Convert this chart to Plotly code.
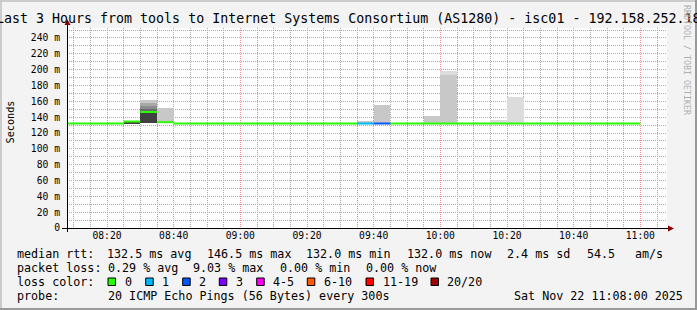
import plotly.graph_objects as go
from datetime import datetime, timedelta

DAY = "2025-11-22"

# ---- data: 5-minute bins (start times), median rtt (ms) and lost pings per bin ----
bin_start = ["08:05", "08:10", "08:15", "08:20", "08:25", "08:30", "08:35", "08:40",
             "08:45", "08:50", "08:55", "09:00", "09:05", "09:10", "09:15", "09:20",
             "09:25", "09:30", "09:35", "09:40", "09:45", "09:50", "09:55", "10:00",
             "10:05", "10:10", "10:15", "10:20", "10:25", "10:30", "10:35", "10:40",
             "10:45", "10:50", "10:55"]
median_ms = [132.0, 132.0, 132.0, 132.0, 134.5, 146.5, 133.7, 132.0,
             132.0, 132.0, 132.0, 132.0, 132.0, 132.0, 132.0, 132.0,
             132.0, 132.0, 132.0, 132.0, 132.0, 132.0, 132.0, 132.0,
             132.0, 132.0, 132.0, 132.0, 132.0, 132.0, 132.0, 132.0,
             132.0, 132.0, 132.0]
loss_count = [0, 0, 0, 0, 0, 0, 0, 0,
              0, 0, 0, 0, 0, 0, 0, 0,
              0, 0, 1, 2, 0, 0, 0, 0,
              0, 0, 0, 0, 0, 0, 0, 0,
              0, 0, 0]

# smoke bands: bin, low (ms), high (ms), ping rank of the band (1 = outermost)
smoke_bin = ["08:25", "08:30", "08:30", "08:30", "08:30", "08:30", "08:30", "08:35",
             "09:35", "09:40", "09:55", "10:00", "10:00", "10:15", "10:20"]
smoke_low = [132.3, 132.6, 146.5, 148.2, 150.7, 154.5, 157.9, 133.7,
             132.0, 132.0, 132.0, 132.0, 193.6, 132.0, 132.0]
smoke_high = [134.5, 146.5, 148.2, 150.7, 154.5, 157.9, 161.2, 152.0,
              135.5, 155.7, 141.0, 193.6, 198.7, 136.8, 166.0]
smoke_rank = [9, 9, 6, 5, 4, 3, 2, 2,
              2, 2, 2, 2, 1, 1, 1]

y_ticks = [0, 20, 40, 60, 80, 100, 120, 140, 160, 180, 200, 220, 240]
y_tick_labels = ["0", "20 m", "40 m", "60 m", "80 m", "100 m", "120 m", "140 m",
                 "160 m", "180 m", "200 m", "220 m", "240 m"]

loss_legend_labels = ["0", "1", "2", "3", "4-5", "6-10", "11-19", "20/20"]

title_text = "Last 3 Hours from tools to Internet Systems Consortium (AS1280) - isc01 - 192.158.252.18"
median_line = ["median rtt:", "132.5 ms avg", "146.5 ms max", "132.0 ms min",
               "132.0 ms now", "2.4 ms sd", "54.5", "am/s"]
loss_line = ["packet loss:", "0.29 % avg", "9.03 % max", "0.00 % min", "0.00 % now"]
probe_line = ["probe:", "20 ICMP Echo Pings (56 Bytes) every 300s", "Sat Nov 22 11:08:00 2025"]

# ---- styles ----
LOSS_COLORS = ["#26ff00", "#00b8ff", "#0059ff", "#7e00ff", "#ff00f0", "#ff5a00", "#ff0000", "#a10000"]
RANK_COLORS = {1: "#dcdcdc", 2: "#c8c8c8", 3: "#a8a8a8", 4: "#8c8c8c", 5: "#6c6c6c",
               6: "#555555", 9: "#404040"}
MONO = "DejaVu Sans Mono"

W, H = 697, 310
L, T, PW, PH = 67, 28, 600, 200


def px(x):
    return (x - L) / PW


def py(y):
    return (T + PH - y) / PH


def loss_idx(n):
    if n <= 3:
        return n
    if n <= 5:
        return 4
    if n <= 10:
        return 5
    if n <= 19:
        return 6
    return 7


def t(hm):
    return datetime.strptime(DAY + " " + hm, "%Y-%m-%d %H:%M")


STEP = timedelta(minutes=5)

fig = go.Figure()

# smoke
fig.add_trace(go.Bar(
    x=[t(b) + STEP / 2 for b in smoke_bin],
    y=[h - l for l, h in zip(smoke_low, smoke_high)],
    base=smoke_low,
    width=300000,
    marker=dict(color=[RANK_COLORS[r] for r in smoke_rank], line=dict(width=0)),
    hoverinfo="skip", showlegend=False,
))

# median line coloured by loss
groups = {}
for s, m, n in zip(bin_start, median_ms, loss_count):
    k = loss_idx(n)
    xs, ys = groups.setdefault(k, ([], []))
    xs += [t(s), t(s) + STEP, None]
    ys += [m, m, None]
for k in sorted(groups):
    xs, ys = groups[k]
    fig.add_trace(go.Scatter(x=xs, y=ys, mode="lines",
                             line=dict(color=LOSS_COLORS[k], width=2),
                             hoverinfo="skip", showlegend=False))

shapes = []
# frame
shapes += [
    dict(type="rect", xref="paper", yref="paper", x0=px(0), x1=px(W), y0=py(0), y1=py(2),
         fillcolor="#cbcbcb", line=dict(width=0), layer="above"),
    dict(type="rect", xref="paper", yref="paper", x0=px(0), x1=px(2), y0=py(0), y1=py(H),
         fillcolor="#cbcbcb", line=dict(width=0), layer="above"),
    dict(type="rect", xref="paper", yref="paper", x0=px(W - 2), x1=px(W), y0=py(0), y1=py(H),
         fillcolor="#999999", line=dict(width=0), layer="above"),
    dict(type="rect", xref="paper", yref="paper", x0=px(0), x1=px(W), y0=py(H - 2), y1=py(H),
         fillcolor="#999999", line=dict(width=0), layer="above"),
]
# axes lines and arrows
shapes += [
    dict(type="line", xref="paper", yref="paper", x0=px(67.5), x1=px(67.5), y0=py(232), y1=py(24),
         line=dict(color="black", width=1), layer="above"),
    dict(type="line", xref="paper", yref="paper", x0=px(62), x1=px(670), y0=py(228.5), y1=py(228.5),
         line=dict(color="black", width=1), layer="above"),
    dict(type="path", xref="paper", yref="paper",
         path=f"M {px(64.5)} {py(25)} L {px(70.5)} {py(25)} L {px(67.5)} {py(19.5)} Z",
         fillcolor="#8b0000", line=dict(width=0), layer="above"),
    dict(type="path", xref="paper", yref="paper",
         path=f"M {px(668)} {py(225.5)} L {px(668)} {py(231.5)} L {px(674)} {py(228.5)} Z",
         fillcolor="#8b0000", line=dict(width=0), layer="above"),
]

annotations = []


def text(x, y, s, size=11.7, color="black", xanchor="left", angle=0):
    annotations.append(dict(xref="paper", yref="paper", x=px(x), y=py(y), text=s.replace(" ", "\u00a0"),
                            showarrow=False, xanchor=xanchor, yanchor="middle", borderpad=0,
                            textangle=angle, font=dict(family=MONO, size=size, color=color)))


text(348, 18.5, title_text, size=13.3, xanchor="center")
text(10, 122.5, "Seconds", size=10.2, xanchor="center", angle=-90)
text(687, 60, "RRDTOOL / TOBI OETIKER", size=8.3, color="#b0b0b0", xanchor="center", angle=90)

for s, x in zip(median_line, [15.5, 106, 206, 305, 406, 505.5, 585.5, 634]):
    text(x, 253.5, s)
for s, x in zip(loss_line, [15.5, 106.5, 192, 279, 364.5]):
    text(x, 267.7, s)
text(15.5, 282, "loss color:")
for lab, bx, col in zip(loss_legend_labels, [108, 145.7, 182.7, 219.3, 256.7, 307.3, 366, 431], LOSS_COLORS):
    shapes.append(dict(type="rect", xref="paper", yref="paper", x0=px(bx), x1=px(bx + 7.5),
                       y0=py(278), y1=py(285.5), fillcolor=col, line=dict(color="black", width=1)))
    text(bx + 15.5, 282, lab)
for s, x in zip(probe_line, [15.5, 106.5, 512.5]):
    text(x, 296, s)

fig.update_layout(
    width=W, height=H, margin=dict(l=L, r=W - L - PW, t=T, b=H - T - PH),
    paper_bgcolor="#f3f3f3", plot_bgcolor="white",
    barmode="overlay", bargap=0, showlegend=False,
    shapes=shapes, annotations=annotations,
    font=dict(family=MONO, size=9.7, color="black"),
)
fig.update_xaxes(
    type="date", range=[t("08:08"), t("11:08")],
    tick0=t("08:00"), dtick=1200000, tickformat="%H:%M",
    showgrid=True, gridcolor="#ee9090", griddash="1px,1px", gridwidth=1,
    minor=dict(dtick=300000, tick0=t("08:00"), showgrid=True, gridcolor="#a8a8a8",
               griddash="1px,1px", gridwidth=1),
    showline=False, zeroline=False, ticks="", tickfont=dict(family=MONO, size=9.7, color="black"),
)
fig.update_yaxes(
    range=[0, PH / 0.7917], tickvals=y_ticks, ticktext=y_tick_labels,
    showgrid=True, gridcolor="#ee9090", griddash="1px,1px", gridwidth=1,
    minor=dict(dtick=10, tick0=0, showgrid=True, gridcolor="#a8a8a8",
               griddash="1px,1px", gridwidth=1),
    showline=False, zeroline=False, ticks="", ticklabelstandoff=6,
    tickfont=dict(family=MONO, size=9.7, color="black"),
)

fig.write_html("out.html", config={"displayModeBar": False})
